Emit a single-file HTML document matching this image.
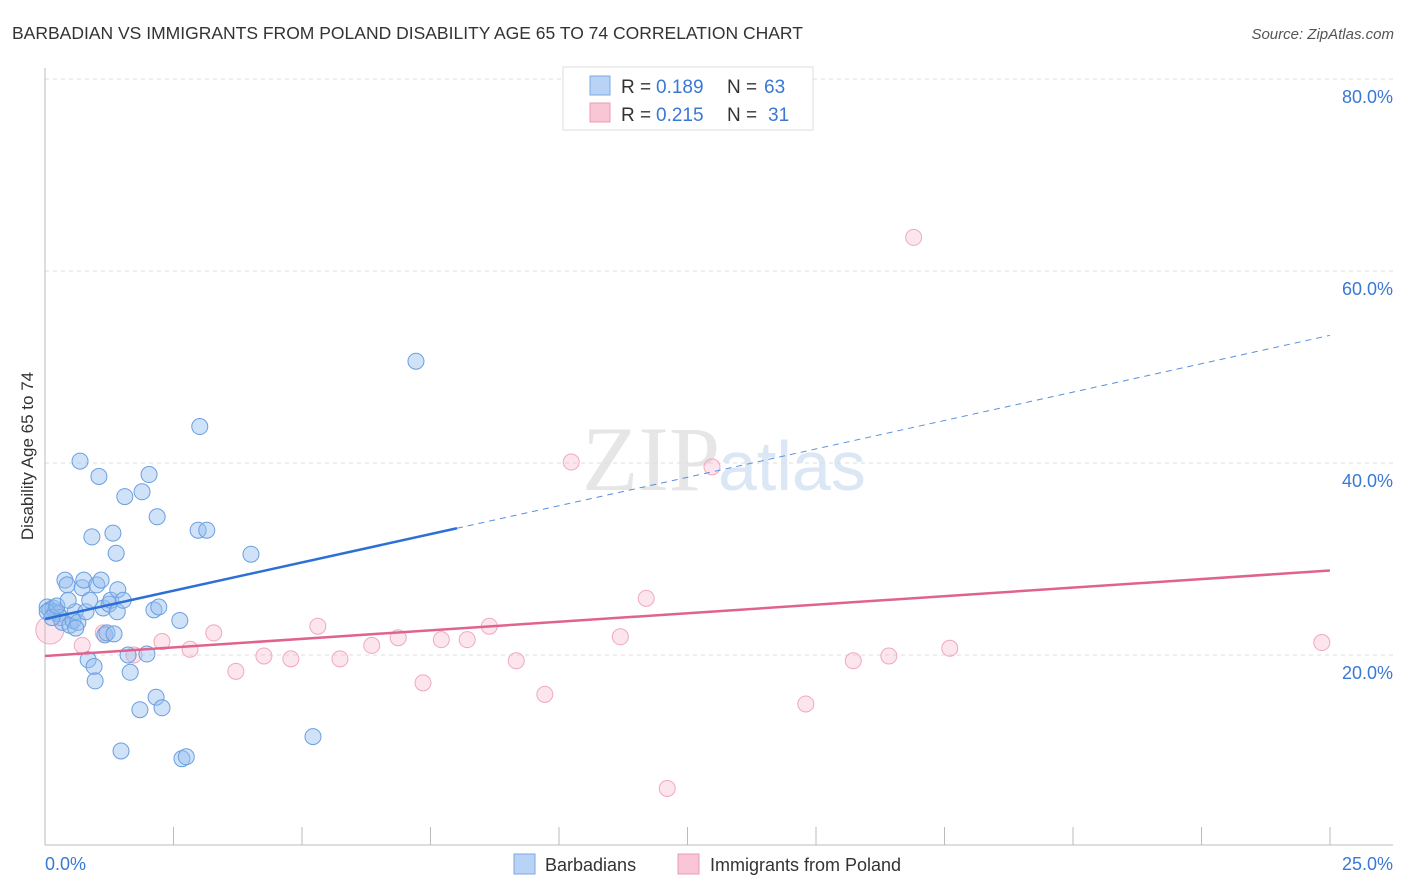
<!DOCTYPE html>
<html><head><meta charset="utf-8"><style>
body{margin:0;background:#fff;font-family:"Liberation Sans",sans-serif;}
#wrap{position:relative;width:1406px;height:892px;overflow:hidden;}
</style></head><body>
<div id="wrap">
<svg id="svg" width="1406" height="892" xmlns="http://www.w3.org/2000/svg">
<text x="12" y="39" font-size="17.5" fill="#333">BARBADIAN VS IMMIGRANTS FROM POLAND DISABILITY AGE 65 TO 74 CORRELATION CHART</text>
<text x="1394" y="39" font-size="15" fill="#555" font-style="italic" text-anchor="end">Source: ZipAtlas.com</text>
<text x="720" y="490" font-size="92" fill="#e6e6e6" text-anchor="end" font-family="Liberation Serif,serif">ZIP</text>
<text x="718" y="490" font-size="70" fill="#dbe7f5">atlas</text>
<text transform="translate(33,456) rotate(-90)" font-size="17" fill="#333" text-anchor="middle">Disability Age 65 to 74</text>
<g id="grid"></g><g id="marks"></g>
<g>
<rect x="563" y="67" width="250" height="63" fill="#fff" stroke="#ddd"/>
<rect x="590" y="76" width="20" height="19" fill="#b8d3f5" stroke="#7aa7e3"/>
<rect x="590" y="103" width="20" height="19" fill="#f9c6d6" stroke="#eb9ab5"/>
<text x="621" y="93" font-size="19" fill="#333">R =</text>
<text x="656" y="93" font-size="19" fill="#3a78d4">0.189</text>
<text x="727" y="93" font-size="19" fill="#333">N =</text>
<text x="764" y="93" font-size="19" fill="#3a78d4">63</text>
<text x="621" y="121" font-size="19" fill="#333">R =</text>
<text x="656" y="121" font-size="19" fill="#3a78d4">0.215</text>
<text x="727" y="121" font-size="19" fill="#333">N =</text>
<text x="768" y="121" font-size="19" fill="#3a78d4">31</text>
</g>
<g>
<rect x="514" y="854" width="21" height="20" fill="#b8d3f5" stroke="#7aa7e3"/>
<text x="545" y="871" font-size="18" fill="#333">Barbadians</text>
<rect x="678" y="854" width="21" height="20" fill="#f9c6d6" stroke="#eb9ab5"/>
<text x="710" y="871" font-size="18" fill="#333">Immigrants from Poland</text>
</g>
</svg>
<script>
const blueX=[0.04,0.09,0.15,0.19,0.24,0.28,0.32,0.37,0.41,0.46,0.52,0.56,0.61,0.65,0.69,0.72,0.76,0.80,0.83,0.87,0.91,0.93,0.96,1.00,1.04,1.08,1.11,1.15,1.19,1.22,1.26,1.28,1.32,1.34,1.35,1.41,1.45,1.48,1.54,1.58,1.76,1.80,1.89,1.93,2.02,2.06,2.08,2.11,2.17,2.50,2.54,2.62,2.84,2.87,3.00,3.82,4.97,6.88,0.04,0.13,0.22,0.43,0.57];
const blueY=[25.0,24.7,24.9,24.5,24.3,23.9,23.4,27.8,27.3,23.1,23.6,24.5,23.4,40.2,27.0,27.8,24.5,19.5,25.7,32.3,18.8,17.3,27.3,38.6,27.8,24.9,22.1,22.3,25.3,25.7,32.7,22.2,30.6,24.5,26.8,10.0,25.7,36.5,20.0,18.2,14.3,37.0,20.1,38.8,24.7,15.6,34.4,25.0,14.5,23.6,9.2,9.4,33.0,43.8,33.0,30.5,11.5,50.6,24.5,23.9,25.1,25.7,22.8];
const pinkX=[0.09,0.69,1.08,1.65,2.17,2.69,3.13,3.54,4.06,4.56,5.06,5.47,6.06,6.55,7.01,7.35,7.83,8.24,8.74,9.27,9.76,10.67,11.15,11.54,12.37,14.11,14.99,15.65,16.11,16.78,23.68];
const pinkY=[22.6,21.0,22.3,20.0,21.4,20.6,22.3,18.3,19.9,19.6,23.0,19.6,21.0,21.8,17.1,21.6,21.6,23.0,19.4,15.9,40.1,21.9,25.9,6.1,39.6,14.9,19.4,19.9,63.5,20.7,21.3];
const yTicks=[20,40,60,80];
const yTickLabels=["20.0%","40.0%","60.0%","80.0%"];
const blueTrend=[[0,23.75],[7.64,33.2],[23.83,53.3]];
const pinkTrend=[[0,19.9],[23.83,28.8]];
const NS="http://www.w3.org/2000/svg";
const sx=v=>45+v/25*1348, sy=v=>847-v*9.6;
const grid=document.getElementById('grid'), marks=document.getElementById('marks');
function mk(tag,attrs,parent){const e=document.createElementNS(NS,tag);for(const k in attrs)e.setAttribute(k,attrs[k]);parent.appendChild(e);return e;}
yTicks.forEach((t,i)=>{
 const l=mk('line',{x1:45,x2:1393,y1:sy(t),y2:sy(t),stroke:'#ddd','stroke-dasharray':'4,4'},grid);
 
 
 const tx=mk('text',{x:1393,y:sy(t)+24,'font-size':18,fill:'#3a78d4','text-anchor':'end'},grid);
 tx.textContent=yTickLabels[i];
 
 
});
const ax=mk('line',{x1:45,x2:45,y1:68,y2:845,stroke:'#bbb'},grid);


const bx=mk('line',{x1:45,x2:1393,y1:845,y2:845,stroke:'#bbb'},grid);


for(let i=0;i<=10;i++){const x=45+i*128.5;const t=mk('line',{x1:x,x2:x,y1:827,y2:845,stroke:'#bbb'},grid);
 
 }
[["0.0%",45,'start'],["25.0%",1393,'end']].forEach(a=>{const t=mk('text',{x:a[1],y:870,'font-size':18,fill:'#3a78d4','text-anchor':a[2]},grid);t.textContent=a[0];
 
 });
pinkX.forEach((x,i)=>{const c=mk('circle',{cx:sx(x),cy:sy(pinkY[i]),r:i==0?14:8,fill:'rgba(244,170,196,0.3)',stroke:'#f0a8c0','stroke-width':1},marks);
 
 });
blueX.forEach((x,i)=>{const c=mk('circle',{cx:sx(x),cy:sy(blueY[i]),r:8,fill:'rgba(150,190,240,0.45)',stroke:'#6a9fe0','stroke-width':1},marks);
 
 });
const b1=mk('line',{x1:sx(blueTrend[0][0]),y1:sy(blueTrend[0][1]),x2:sx(blueTrend[1][0]),y2:sy(blueTrend[1][1]),stroke:'#2c6fd6','stroke-width':2.5},marks);


const b2=mk('line',{x1:sx(blueTrend[1][0]),y1:sy(blueTrend[1][1]),x2:sx(blueTrend[2][0]),y2:sy(blueTrend[2][1]),stroke:'#5b8fdc','stroke-width':1,'stroke-dasharray':'6,5'},marks);


const p1=mk('line',{x1:sx(pinkTrend[0][0]),y1:sy(pinkTrend[0][1]),x2:sx(pinkTrend[1][0]),y2:sy(pinkTrend[1][1]),stroke:'#e0638f','stroke-width':2.5},marks);


</script>
</div></body></html>
